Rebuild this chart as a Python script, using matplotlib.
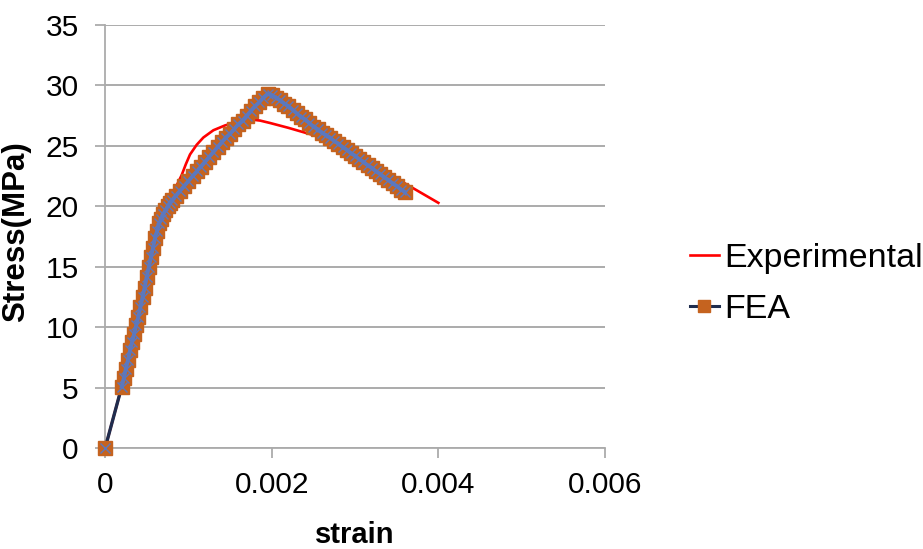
import matplotlib
matplotlib.use('Agg')
import matplotlib.pyplot as plt
from matplotlib.lines import Line2D

# Experimental curve
exp_strain = [0, 0.0002, 0.0004, 0.0006, 0.00075, 0.00085, 0.00092, 0.00097, 0.00102,
              0.0011, 0.00118, 0.0013, 0.00144, 0.0016, 0.00174, 0.00186, 0.00198,
              0.0022, 0.0024, 0.0026, 0.0028, 0.003, 0.0032, 0.0034, 0.0036, 0.0038,
              0.004]
exp_stress = [0, 5.1, 10.8, 17.2, 20.3, 21.6, 22.6, 23.5, 24.3,
              25.1, 25.7, 26.3, 26.7, 27.0, 27.2, 27.1, 26.9,
              26.5, 26.1, 25.7, 25.2, 24.6, 23.8, 22.8, 21.9, 21.1,
              20.3]

# FEA results
fea_strain = [0, 0.0002, 0.000225, 0.00025, 0.000275, 0.0003, 0.000325, 0.00035,
              0.000375, 0.0004, 0.000425, 0.00045, 0.000475, 0.0005, 0.000525,
              0.00055, 0.000575, 0.0006, 0.000625, 0.00065, 0.000675, 0.0007,
              0.000725, 0.00075, 0.000775, 0.0008, 0.00085, 0.0009, 0.00095, 0.001,
              0.00105, 0.0011, 0.00115, 0.0012, 0.00125, 0.0013, 0.00135, 0.0014,
              0.00145, 0.0015, 0.00155, 0.0016, 0.00165, 0.0017, 0.00175, 0.0018,
              0.00185, 0.0019, 0.00195, 0.002, 0.00205, 0.0021, 0.00215, 0.0022,
              0.00225, 0.0023, 0.00235, 0.0024, 0.00245, 0.0025, 0.00255, 0.0026,
              0.00265, 0.0027, 0.00275, 0.0028, 0.00285, 0.0029, 0.00295, 0.003,
              0.00305, 0.0031, 0.00315, 0.0032, 0.00325, 0.0033, 0.00335, 0.0034,
              0.00345, 0.0035, 0.00355, 0.0036]
fea_stress = [0, 5.1, 5.8, 6.6, 7.3, 8.1, 8.8, 9.5,
              10.2, 10.9, 11.7, 12.5, 13.3, 14.2, 15.0,
              15.8, 16.6, 17.4, 18.0, 18.6, 19.0, 19.4,
              19.7, 20.0, 20.3, 20.5, 20.9, 21.3, 21.7, 22.1,
              22.5, 22.9, 23.3, 23.7, 24.1, 24.5, 24.9, 25.3,
              25.7, 26.0, 26.4, 26.8, 27.1, 27.5, 27.9, 28.3,
              28.6, 29.0, 29.3, 29.2, 29.0, 28.8, 28.5, 28.3,
              28.0, 27.7, 27.4, 27.2, 26.9, 26.6, 26.4, 26.1,
              25.9, 25.7, 25.4, 25.2, 24.9, 24.7, 24.4, 24.2,
              23.9, 23.7, 23.4, 23.2, 22.9, 22.7, 22.4, 22.2,
              21.9, 21.7, 21.4, 21.2]

x_ticks = [0, 0.002, 0.004, 0.006]
x_tick_labels = ['0', '0.002', '0.004', '0.006']
y_ticks = [0, 5, 10, 15, 20, 25, 30, 35]

plt.rcParams['font.family'] = ['Liberation Sans', 'DejaVu Sans']

fig = plt.figure(figsize=(9.23, 5.49), dpi=100)
ax = fig.add_axes([0.1138, 0.1831, 0.5417, 0.7714])

grid_col = '#ABABAB'
navy = '#1F2D4E'
orange = '#C5631F'
blue = '#5B78BE'

# Experimental curve sits under the FEA markers
exp_line, = ax.plot(exp_strain, exp_stress, color='#FF0000', lw=1.9, zorder=2)

# FEA: navy line with orange squares, blue line and crosses on top
ax.plot(fea_strain, fea_stress, color=navy, lw=2.4, zorder=3, clip_on=False)
ax.plot(fea_strain, fea_stress, ls='none', marker='s', ms=10.5,
        mfc=orange, mec=orange, zorder=4, clip_on=False)
ax.plot(fea_strain[1:], fea_stress[1:], color=blue, lw=2.8, marker='x', ms=7,
        mew=1.0, mec=blue, zorder=5)
ax.plot(fea_strain[:1], fea_stress[:1], ls='none', marker='x', ms=7, mew=1.0,
        mec=blue, zorder=5, clip_on=False)

# Axes limits and ticks
ax.set_xlim(0, 0.006)
ax.set_ylim(0, 35)
ax.set_xticks(x_ticks)
ax.set_xticklabels(x_tick_labels)
ax.set_yticks(y_ticks)
ax.tick_params(axis='both', labelsize=21.5, colors=grid_col, labelcolor='black',
               length=7, width=1.3, direction='out')
ax.tick_params(axis='x', pad=9)
ax.tick_params(axis='y', pad=12)

# Excel-like grid and spines
ax.grid(axis='y', color=grid_col, lw=1.4)
ax.set_axisbelow(True)
for s in ['top', 'right']:
    ax.spines[s].set_visible(False)
for s in ['left', 'bottom']:
    ax.spines[s].set_color(grid_col)
    ax.spines[s].set_linewidth(1.3)

# Axis labels
ax.set_xlabel('strain', fontsize=21, fontweight='bold')
ax.set_ylabel('Stress(MPa)', fontsize=22.5, fontweight='bold')
ax.xaxis.set_label_coords(0.5, -0.205)
ax.yaxis.set_label_coords(-0.178, 0.511)
ax.xaxis.label.set_va('center')
ax.yaxis.label.set_va('center')

# Legend
fea_handle = Line2D([], [], color=navy, lw=2.2, marker='s',
                    ms=9, mfc=orange, mec=orange)
ax.legend([exp_line, fea_handle], ['Experimental', 'FEA'],
          loc='center left', bbox_to_anchor=(690 / 923, 1 - 284 / 549),
          bbox_transform=fig.transFigure, frameon=False, fontsize=24.5,
          handlelength=0.85, handletextpad=0.15, labelspacing=0.6,
          borderpad=0, borderaxespad=0)

fig.savefig('out.png', dpi=100)
